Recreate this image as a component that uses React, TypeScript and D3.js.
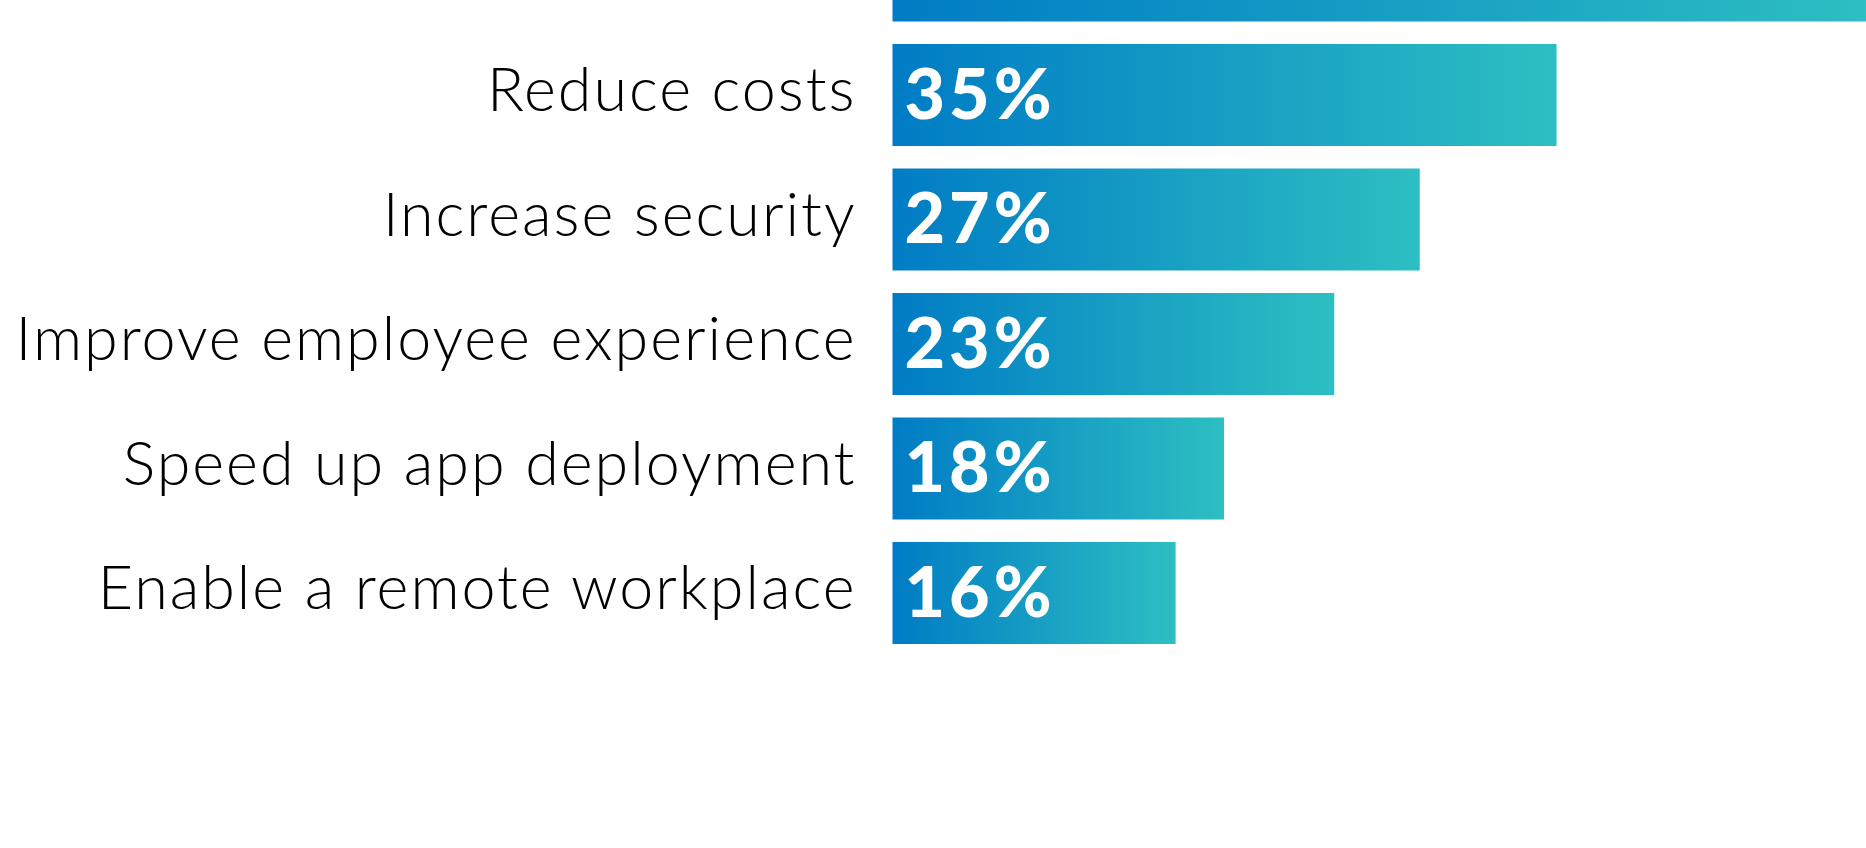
import React from "react";
import * as d3 from "d3";

const categories = [
  "Increase productivity",
  "Reduce costs",
  "Increase security",
  "Improve employee experience",
  "Speed up app deployment",
  "Enable a remote workplace",
];
const valueLabels = ["", "35%", "27%", "23%", "18%", "16%"];
// bar lengths (percent) as drawn in the picture
const barValues = [51.6, 34.95, 27.75, 23.25, 17.45, 14.9];

const W = 1866;
const H = 848;

export default function App() {
  const step = 124.5;
  const pad = 22.5 / step;
  const r0 = -80.5 - (step * pad) / 2;
  const y = d3
    .scaleBand<string>()
    .domain(categories)
    .range([r0, r0 + categories.length * step])
    .paddingInner(pad)
    .paddingOuter(pad / 2);
  const x = d3.scaleLinear().domain([0, 100]).range([892.5, 892.5 + 1900]);
  const ls = 2.0;

  return (
    <div style={{ position: "fixed", left: 0, top: 0, width: W, height: H, background: "#fff" }}>
      <svg width={W} height={H} viewBox={`0 0 ${W} ${H}`} style={{ display: "block" }}>
        <defs>
          <linearGradient id="barGrad" x1="0" x2="1" y1="0" y2="0">
            <stop offset="0%" stopColor="#007cc5" />
            <stop offset="100%" stopColor="#2dbfc2" />
          </linearGradient>
        </defs>
        {categories.map((c, i) => {
          const top = y(c)!;
          const bw = y.bandwidth();
          return (
            <g key={c}>
              <rect
                x={x(0)}
                y={top}
                width={x(barValues[i]) - x(0)}
                height={bw}
                fill="url(#barGrad)"
              />
              <text
                x={854.5 + ls}
                y={top + 67}
                textAnchor="end"
                fontFamily="Lato"
                fontWeight={300}
                fontSize={61}
                letterSpacing={ls}
                fill="#000"
              >
                {c}
              </text>
              {valueLabels[i] && (
                <text
                  x={x(0) + 12}
                  y={top + 74.7}
                  fontFamily="Lato"
                  fontWeight={900}
                  fontSize={70}
                  letterSpacing={4}
                  fill="#fff"
                >
                  {valueLabels[i]}
                </text>
              )}
            </g>
          );
        })}
      </svg>
    </div>
  );
}
